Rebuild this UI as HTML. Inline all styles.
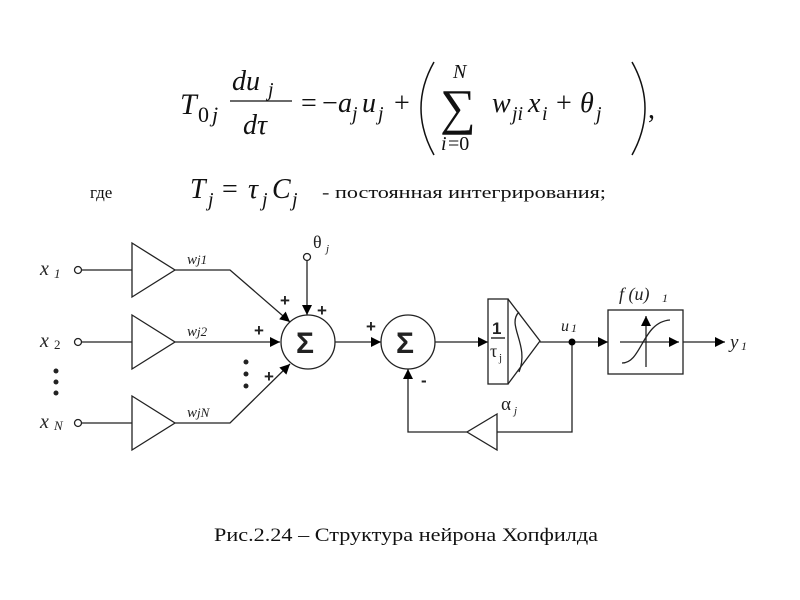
<!DOCTYPE html>
<html><head><meta charset="utf-8"><style>
html,body{margin:0;padding:0;background:#fff;}
svg{display:block;}
.s{font-family:"Liberation Serif",serif;}
.i{font-family:"Liberation Serif",serif;font-style:italic;}
.b{font-family:"Liberation Sans",sans-serif;font-weight:bold;}
</style></head><body>
<svg width="800" height="600" viewBox="0 0 800 600" xmlns="http://www.w3.org/2000/svg">
<defs>
<marker id="a" viewBox="0 0 10 10" refX="10" refY="5" markerWidth="14" markerHeight="10" markerUnits="userSpaceOnUse" orient="auto"><path d="M0,0 L10,5 L0,10 z" fill="#000"/></marker>
</defs>
<g fill="#111">
<text x="180" y="114" class="i" font-size="30">T</text>
<text x="198" y="122" class="s" font-size="22">0</text>
<text x="212" y="122" class="i" font-size="22">j</text>
<text x="232" y="90" class="i" font-size="28">du</text>
<text x="268" y="96" class="i" font-size="20">j</text>
<line x1="230" y1="101" x2="292" y2="101" stroke="#111" stroke-width="1.3"/>
<text x="243" y="134" class="i" font-size="28">dτ</text>
<text x="301" y="112" class="s" font-size="28">=</text>
<text x="322" y="112" class="s" font-size="28">−</text>
<text x="338" y="112" class="i" font-size="28">a</text>
<text x="352" y="120" class="i" font-size="20">j</text>
<text x="362" y="112" class="i" font-size="28">u</text>
<text x="378" y="120" class="i" font-size="20">j</text>
<text x="394" y="112" class="s" font-size="28">+</text>
<path d="M434,62 Q408,108 434,155" fill="none" stroke="#111" stroke-width="1.5"/>
<text x="453" y="78" class="i" font-size="20">N</text>
<text x="440" y="124" class="s" font-size="50">∑</text>
<text x="441" y="150" class="i" font-size="20">i</text>
<text x="448" y="150" class="s" font-size="20">=0</text>
<text x="492" y="112" class="i" font-size="28">w</text>
<text x="512" y="120" class="i" font-size="20">ji</text>
<text x="528" y="112" class="i" font-size="28">x</text>
<text x="542" y="120" class="i" font-size="20">i</text>
<text x="556" y="112" class="s" font-size="28">+</text>
<text x="580" y="112" class="i" font-size="28">θ</text>
<text x="596" y="120" class="i" font-size="20">j</text>
<path d="M632,62 Q658,108 632,155" fill="none" stroke="#111" stroke-width="1.5"/>
<text x="648" y="118" class="s" font-size="28">,</text>

<text x="90" y="198" class="s" font-size="17">где</text>
<text x="190" y="198" class="i" font-size="28">T</text>
<text x="208" y="206" class="i" font-size="20">j</text>
<text x="222" y="198" class="s" font-size="28">=</text>
<text x="248" y="198" class="i" font-size="28">τ</text>
<text x="262" y="206" class="i" font-size="20">j</text>
<text x="272" y="198" class="i" font-size="28">C</text>
<text x="292" y="206" class="i" font-size="20">j</text>
<text x="322" y="198" class="s" font-size="17" textLength="284" lengthAdjust="spacingAndGlyphs">- постоянная интегрирования;</text>

<text x="214" y="541" class="s" font-size="19" textLength="384" lengthAdjust="spacingAndGlyphs">Рис.2.24 – Структура нейрона Хопфилда</text>
</g>

<g fill="none" stroke="#222" stroke-width="1.3">
<circle cx="78" cy="270" r="3.5"/>
<circle cx="78" cy="342" r="3.5"/>
<circle cx="78" cy="423" r="3.5"/>
<line x1="82" y1="270" x2="132" y2="270"/>
<line x1="82" y1="342" x2="132" y2="342"/>
<line x1="82" y1="423" x2="132" y2="423"/>
<polygon points="132,243 175,270 132,297"/>
<polygon points="132,315 175,342 132,369"/>
<polygon points="132,396 175,423 132,450"/>
<polyline points="175,270 230,270 290,322" marker-end="url(#a)"/>
<line x1="175" y1="342" x2="280" y2="342" marker-end="url(#a)"/>
<polyline points="175,423 230,423 290,364" marker-end="url(#a)"/>
<circle cx="307" cy="257" r="3.5"/>
<line x1="307" y1="261" x2="307" y2="315" marker-end="url(#a)"/>
<circle cx="308" cy="342" r="27"/>
<line x1="335" y1="342" x2="381" y2="342" marker-end="url(#a)"/>
<circle cx="408" cy="342" r="27"/>
<line x1="435" y1="342" x2="488" y2="342" marker-end="url(#a)"/>
<rect x="488" y="299" width="20" height="85"/>
<polyline points="508,299 540,341 508,384"/>
<path d="M519,312 C506,325 530,345 519,372"/>
<line x1="540" y1="342" x2="608" y2="342" marker-end="url(#a)"/>
<rect x="608" y="310" width="75" height="64"/>
<line x1="620" y1="342" x2="679" y2="342" marker-end="url(#a)"/>
<line x1="646" y1="367" x2="646" y2="316" marker-end="url(#a)"/>
<path d="M622,363 C642,363 642,322 670,320"/>
<line x1="683" y1="342" x2="725" y2="342" marker-end="url(#a)"/>
<polyline points="572,342 572,432 497,432"/>
<polygon points="497,414 467,432 497,450"/>
<polyline points="467,432 408,432 408,369" marker-end="url(#a)"/>
</g>
<circle cx="572" cy="342" r="3.5" fill="#000"/>
<g fill="#222">
<text x="40" y="275" class="i" font-size="20">x</text><text x="54" y="278" class="i" font-size="13">1</text>
<text x="40" y="347" class="i" font-size="20">x</text><text x="54" y="349" class="s" font-size="13">2</text>
<text x="40" y="428" class="i" font-size="20">x</text><text x="54" y="430" class="i" font-size="13">N</text>
<circle cx="56" cy="371" r="2.5"/><circle cx="56" cy="382" r="2.5"/><circle cx="56" cy="393" r="2.5"/>
<circle cx="246" cy="362" r="2.5"/><circle cx="246" cy="374" r="2.5"/><circle cx="246" cy="386" r="2.5"/>
<text x="187" y="264" class="i" font-size="15">w<tspan font-size="13">j1</tspan></text>
<text x="187" y="336" class="i" font-size="15">w<tspan font-size="13">j2</tspan></text>
<text x="187" y="417" class="i" font-size="15">w<tspan font-size="13">jN</tspan></text>
<text x="313" y="248" class="s" font-size="18">θ</text><text x="326" y="252" class="i" font-size="11">j</text>
<text x="280" y="306" class="b" font-size="17">+</text>
<text x="317" y="316" class="b" font-size="17">+</text>
<text x="254" y="336" class="b" font-size="17">+</text>
<text x="264" y="382" class="b" font-size="17">+</text>
<text x="366" y="332" class="b" font-size="17">+</text>
<text x="421" y="386" class="b" font-size="17">-</text>
<text x="296" y="353" class="b" font-size="30">Σ</text>
<text x="396" y="353" class="b" font-size="30">Σ</text>
<text x="492" y="334" class="b" font-size="17">1</text>
<line x1="491" y1="338" x2="505" y2="338" stroke="#222" stroke-width="1.4"/>
<text x="490" y="357" class="s" font-size="18">τ</text><text x="499" y="361" class="s" font-size="11">j</text>
<text x="561" y="331" class="i" font-size="16">u</text><text x="571" y="332" class="i" font-size="12">1</text>
<text x="619" y="300" class="i" font-size="18">f (u)</text><text x="662" y="302" class="i" font-size="12">1</text>
<text x="730" y="348" class="i" font-size="19">y</text><text x="741" y="350" class="i" font-size="12">1</text>
<text x="501" y="410" class="s" font-size="19">α</text><text x="514" y="414" class="i" font-size="11">j</text>
</g>
</svg>
</body></html>
